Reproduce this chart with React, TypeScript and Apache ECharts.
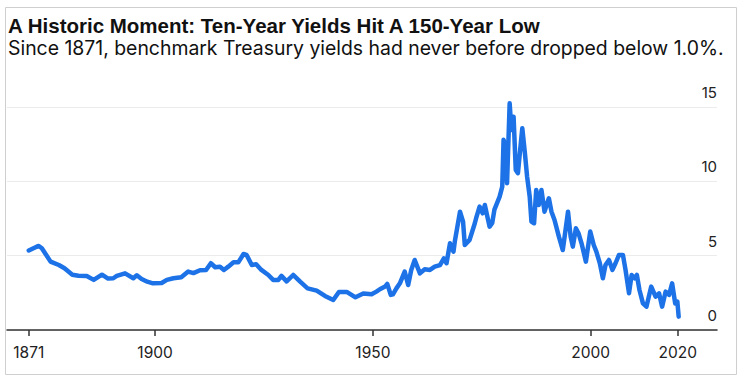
import React, { useEffect, useRef } from "react";
import * as echarts from "echarts";

const TITLE = "A Historic Moment: Ten-Year Yields Hit A 150-Year Low";
const SUBTITLE = "Since 1871, benchmark Treasury yields had never before dropped below 1.0%.";

const xTicks = [1871, 1900, 1950, 2000, 2020];
const yTicks = [0, 5, 10, 15];

const years = [
  1871, 1872.8, 1873.3, 1874, 1876, 1877.9, 1879.2, 1881, 1882.4, 1884.3, 1885.9, 1887.8, 1889.2, 1890.4,
  1891.2, 1893.1, 1895, 1895.8, 1896.9, 1898.2, 1899.5, 1901.5, 1902.7, 1904.2, 1906, 1907.6, 1908.8,
  1910.3, 1911.7, 1912.8, 1913.8, 1914.9, 1915.8, 1916.8, 1918, 1919.1, 1920.3, 1921, 1922.2, 1923.2,
  1924.4, 1926, 1927.1, 1928.3, 1929, 1930.2, 1931.7, 1933.3, 1935, 1937.1, 1939, 1940.9, 1942.2, 1944,
  1946, 1947.8, 1949.7, 1950.8, 1951.6, 1952.8, 1953.3, 1954.1, 1954.6, 1955.4, 1956.2, 1957.3, 1958.1,
  1958.8, 1959.6, 1960.8, 1961.9, 1963.1, 1964.2, 1965.4, 1966.3, 1966.9, 1967.7, 1968.5, 1968.8, 1970,
  1970.7, 1971.1, 1972.2, 1973.4, 1973.7, 1974.5, 1975.2, 1975.7, 1976.2, 1976.8, 1977.4, 1977.9, 1979.1,
  1979.7, 1980.0, 1980.5, 1980.8, 1981.4, 1981.8, 1982.3, 1982.8, 1983.3, 1983.7, 1984.3, 1984.9, 1985.4,
  1986.0, 1986.4, 1987.0, 1987.5, 1988.1, 1988.7, 1989.4, 1990.4, 1991.0, 1991.7, 1992.7, 1993.6, 1994.8,
  1995.4, 1995.9, 1996.6, 1997.2, 1997.9, 1998.9, 1999.9, 2000.7, 2001.3, 2002.1, 2002.8, 2003.4, 2004.2,
  2005.0, 2005.7, 2006.5, 2007.4, 2008.0, 2008.8, 2009.4, 2010.1, 2010.6, 2011.2, 2012.0, 2012.8, 2013.9,
  2014.9, 2015.7, 2016.4, 2017.2, 2018.0, 2018.7, 2019.4, 2019.9, 2020.2,
];

const yields = [
  5.35, 5.6, 5.65, 5.5, 4.6, 4.37, 4.15, 3.72, 3.65, 3.63, 3.37, 3.72, 3.46, 3.48,
  3.64, 3.81, 3.48, 3.68, 3.43, 3.25, 3.14, 3.16, 3.37, 3.48, 3.55, 3.93, 3.83,
  4.02, 4.04, 4.49, 4.22, 4.26, 4.04, 4.26, 4.55, 4.55, 5.11, 5.05, 4.37, 4.42,
  4.04, 3.7, 3.37, 3.37, 3.64, 3.27, 3.7, 3.25, 2.8, 2.65, 2.29, 2.02, 2.56, 2.56,
  2.2, 2.45, 2.4, 2.58, 2.74, 2.92, 3.1, 2.36, 2.4, 2.8, 3.14, 3.93, 3.03,
  4.04, 4.71, 3.81, 4.08, 4.04, 4.26, 4.37, 4.82, 4.49, 5.83, 5.27, 5.94, 7.96,
  7.29, 5.72, 6.06, 7.18, 7.52, 8.3, 7.85, 8.41, 7.74, 6.95, 7.2, 8.1, 8.97,
  9.64, 12.79, 12.3, 9.87, 15.25, 13.46, 14.35, 10.77, 10.55, 11.78, 13.57, 11.89, 10.32,
  8.97, 7.29, 7.18, 9.42, 8.41, 9.42, 7.96, 8.86, 7.96, 7.4, 6.28, 5.38, 7.96,
  6.28, 5.61, 6.84, 6.51, 5.83, 4.6, 6.62, 5.72, 5.27, 4.49, 3.48, 4.37, 4.71,
  4.04, 4.49, 5.05, 5.05, 4.04, 2.47, 3.7, 3.48, 3.7, 2.69, 1.79, 1.57, 2.92,
  2.24, 2.47, 1.57, 2.58, 2.36, 3.14, 1.79, 1.91, 0.9,
];

export default function App() {
  const ref = useRef<HTMLDivElement>(null);
  useEffect(() => {
    document.body.style.margin = "0";
    const chart = echarts.init(ref.current!, null, { renderer: "svg" });
    const data = years.map((y, i) => [y, yields[i]]);
    chart.setOption({
      animation: false,
      backgroundColor: "#ffffff",
      title: [
        {
          text: TITLE,
          left: 8,
          top: 15,
          padding: 0,
          textStyle: { fontFamily: "Liberation Sans", fontWeight: "bold", fontSize: 20.5, color: "#111" },
        },
        {
          text: SUBTITLE,
          left: 8,
          top: 38,
          padding: 0,
          textStyle: { fontFamily: "Inter", fontWeight: "normal", fontSize: 19.4, color: "#111" },
        },
      ],
      graphic: [
        {
          type: "rect",
          shape: { x: 5.5, y: 7.5, width: 731, height: 367 },
          style: { fill: "none", stroke: "#cfcfcf", lineWidth: 1 },
          silent: true,
        },
      ],
      grid: { left: 7, right: 26, top: 107, bottom: 56, containLabel: false },
      xAxis: {
        type: "value",
        min: 1866,
        max: 2029,
        axisLine: { show: true, lineStyle: { color: "#333", width: 1.5 } },
        axisTick: { show: true, customValues: xTicks, length: 6, lineStyle: { color: "#333", width: 1.5 } },
        axisLabel: {
          customValues: xTicks,
          margin: 14,
          fontFamily: "Inter",
          fontSize: 15.5,
          color: "#222",
          formatter: (v: number) => String(v),
        },
        splitLine: { show: false },
      },
      yAxis: {
        type: "value",
        position: "right",
        min: 0,
        max: 15,
        interval: 5,
        axisLine: { show: false },
        axisTick: { show: false },
        axisLabel: {
          inside: true,
          margin: 0,
          verticalAlign: "bottom",
          padding: [0, 0, 7, 0],
          fontFamily: "Inter",
          fontSize: 15,
          color: "#222",
          customValues: yTicks,
        },
        splitLine: { show: true, lineStyle: { color: "#ebebeb", width: 1 } },
      },
      series: [
        {
          type: "line",
          data,
          showSymbol: false,
          clip: false,
          lineStyle: { color: "#1c72e6", width: 4.5, join: "round", cap: "round" },
          z: 5,
        },
      ],
    });
    return () => chart.dispose();
  }, []);
  return <div ref={ref} style={{ position: "fixed", left: 0, top: 0, width: 743, height: 386 }} />;
}
